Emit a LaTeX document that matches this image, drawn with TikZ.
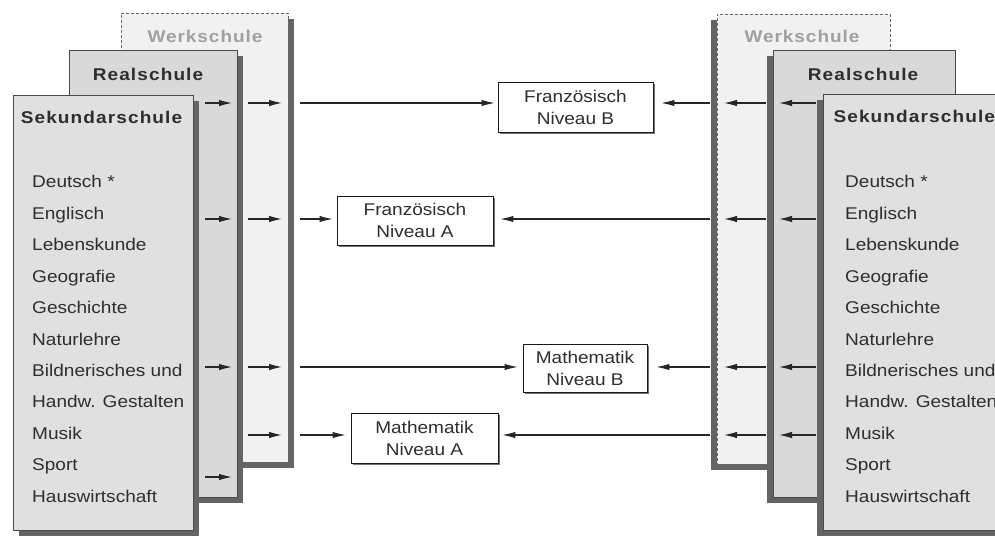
\documentclass[tikz,border=0pt]{standalone}
\usepackage{fontspec}
\setmainfont[FakeStretch=1.12]{Liberation Sans}
\newfontfamily\titlefont[FakeStretch=1.12,LetterSpace=6.5]{Liberation Sans}
\newfontfamily\lighttitlefont[FakeStretch=1.12,LetterSpace=5.5]{Liberation Sans}
\usetikzlibrary{shadows,arrows.meta}

\definecolor{sekfill}{HTML}{E0E0E0}
\definecolor{realfill}{HTML}{D9D9D9}
\definecolor{werkfill}{HTML}{F1F1F1}
\definecolor{shadowgray}{HTML}{646464}
\definecolor{edgegray}{HTML}{4A4A4A}
\definecolor{textgray}{HTML}{2E2E2E}
\definecolor{werktext}{HTML}{A0A0A0}

\begin{document}
\begin{tikzpicture}[x=1pt,y=-1pt,
  font=\fontsize{17}{22}\selectfont,
  panel/.style={draw=edgegray, line width=0.8pt, anchor=north west,
    inner sep=0pt, outer sep=0pt},
  shadowright/.style={drop shadow={shadow xshift=6pt, shadow yshift=-6pt,
    opacity=1, fill=shadowgray}},
  shadowleft/.style={drop shadow={shadow xshift=-6pt, shadow yshift=-6pt,
    opacity=1, fill=shadowgray}},
  sekpanel/.style={panel, fill=sekfill},
  realpanel/.style={panel, fill=realfill},
  werkpanel/.style={panel, fill=werkfill, draw=black!60,
    dash pattern=on 3pt off 2pt},
  schooltitle/.style={anchor=base, text=textgray, font=\fontsize{17}{22}\titlefont\bfseries},
  werktitle/.style={anchor=base, text=werktext, font=\fontsize{17}{22}\lighttitlefont\bfseries},
  subject/.style={anchor=base west, text=textgray, inner sep=0pt},
  levelbox/.style={draw=black!90, line width=0.8pt, fill=white, align=center,
    inner sep=0pt, text=textgray,
    drop shadow={shadow xshift=1.6pt, shadow yshift=-1.6pt, opacity=1, fill=black!55}},
  arr/.style={-{Latex[length=13pt,width=6.5pt]}, line width=1.1pt, draw=black!85},
]
\useasboundingbox (0,0) rectangle (995,540);
\clip (0,0) rectangle (995,540);

% ---------- left stack of school panels ----------
\node[werkpanel, shadowright, minimum width=167pt, minimum height=449pt] (werkL) at (121,13) {};
\node[realpanel, shadowright, minimum width=168pt, minimum height=447pt] (realL) at (69,50) {};
\node[sekpanel, shadowright, minimum width=180pt, minimum height=435pt] (sekL) at (13,95) {};

% ---------- right stack of school panels ----------
\node[werkpanel, shadowleft, minimum width=173pt, minimum height=450pt] (werkR) at (717,14) {};
\node[realpanel, shadowleft, minimum width=182pt, minimum height=447pt] (realR) at (773,50) {};
\node[sekpanel, shadowleft, minimum width=200pt, minimum height=436pt] (sekR) at (823,94) {};

% ---------- panel titles ----------
\node[werktitle] (werkLt) at (205,43) {Werkschule};
\node[schooltitle] (realLt) at (148,81) {Realschule};
\node[schooltitle] (sekLt) at (101.5,124) {Sekundarschule};
\node[werktitle] (werkRt) at (802,43) {Werkschule};
\node[schooltitle] (realRt) at (863,81) {Realschule};
\node[schooltitle, anchor=base west] (sekRt) at (830,123) {Sekundarschule};

% ---------- subject lists ----------
\foreach \s [count=\i] in {Deutsch *, Englisch, Lebenskunde, Geografie, Geschichte,
    Naturlehre, Bildnerisches und, Handw. Gestalten, Musik, Sport, Hauswirtschaft} {
  \node[subject] (subL\i) at (32, {188 + 31.4*(\i-1)}) {\s};
  \node[subject] (subR\i) at (845, {188 + 31.4*(\i-1)}) {\s};
}

% ---------- course levels ----------
\node[levelbox, minimum width=155pt, minimum height=50pt] (fb) at (575.5,107) {Französisch\\Niveau B};
\node[levelbox, minimum width=156pt, minimum height=49pt] (fa) at (415,220.5) {Französisch\\Niveau A};
\node[levelbox, minimum width=124pt, minimum height=48pt] (mb) at (585,368) {Mathematik\\Niveau B};
\node[levelbox, minimum width=147pt, minimum height=50pt] (ma) at (424.5,438) {Mathematik\\Niveau A};

% ---------- row heights and strip positions ----------
\coordinate (row1) at (0,103);
\coordinate (row2) at (0,219);
\coordinate (row3) at (0,367);
\coordinate (row4) at (0,435);
\coordinate (row5) at (0,477);
\coordinate (lrA) at (205,0);  \coordinate (lrB) at (232,0);
\coordinate (lwA) at (248,0);  \coordinate (lwB) at (282,0);
\coordinate (lo) at (300,0);
\coordinate (ro) at (710,0);
\coordinate (rwA) at (766,0);  \coordinate (rwB) at (724,0);
\coordinate (rrA) at (816,0);  \coordinate (rrB) at (779,0);

% ---------- left arrows ----------
\foreach \r in {1,2,3,5}
  \draw[arr] (lrA |- row\r) -- (lrB |- row\r);
\foreach \r in {1,2,3,4}
  \draw[arr] (lwA |- row\r) -- (lwB |- row\r);
\draw[arr, shorten >=3pt] (lo |- row1) -- (row1 -| fb.west);
\draw[arr, shorten >=4pt] (lo |- row2) -- (row2 -| fa.west);
\draw[arr, shorten >=5pt] (lo |- row3) -- (row3 -| mb.west);
\draw[arr, shorten >=5pt] (lo |- row4) -- (row4 -| ma.west);

% ---------- right arrows ----------
\foreach \r in {1,2,3,4} {
  \draw[arr] (rrA |- row\r) -- (rrB |- row\r);
  \draw[arr] (rwA |- row\r) -- (rwB |- row\r);
}
\draw[arr, shorten >=8pt] (ro |- row1) -- (row1 -| fb.east);
\draw[arr, shorten >=7pt] (ro |- row2) -- (row2 -| fa.east);
\draw[arr, shorten >=9pt] (ro |- row3) -- (row3 -| mb.east);
\draw[arr, shorten >=4pt] (ro |- row4) -- (row4 -| ma.east);
\end{tikzpicture}
\end{document}
